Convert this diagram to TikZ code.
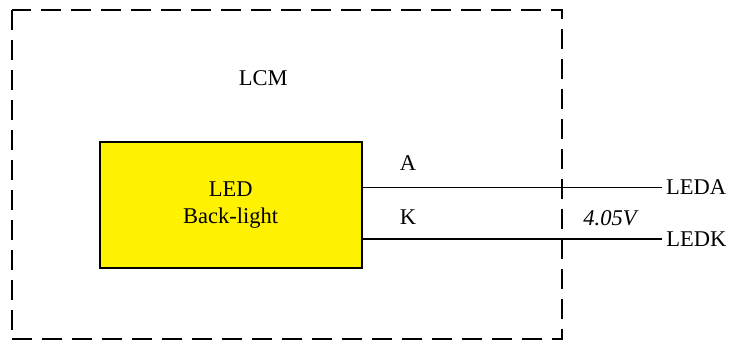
\documentclass[tikz,border=0pt]{standalone}
\usepackage{fontspec}
\setmainfont{Liberation Serif}
\begin{document}
\begin{tikzpicture}[x=1pt, y=-1pt, font=\fontsize{22.5}{27}\selectfont]
\tikzset{
    ledbox/.style={draw, line width=2pt, fill=yellow, minimum width=262pt, minimum height=126pt, align=center},
    frame/.style={line width=2.3pt, dash pattern=on 20pt off 10pt},
    pin/.style={inner sep=0pt}
}
\useasboundingbox (0,0) rectangle (742,345);
\draw[frame] (11.7,10) rectangle (562,339.3);
\node at (263.3,78){LCM};

\node[ledbox] (led) at (230.7,205){LED\\Back-light};
\coordinate (ledA) at (662,187.3);
\coordinate (ledK) at (662,239.3);
\draw[line width=1.4pt] (led.east |- ledA)--(ledA)node[right]{LEDA};
\draw[line width=2pt] (led.east |- ledK)--(ledK)node[right]{LEDK};
\node[pin] (a) at (408,163){A};
\node[pin] (k) at (408,217){K};
\node at (610,218){\itshape 4.05V};
\end{tikzpicture}
\end{document}
